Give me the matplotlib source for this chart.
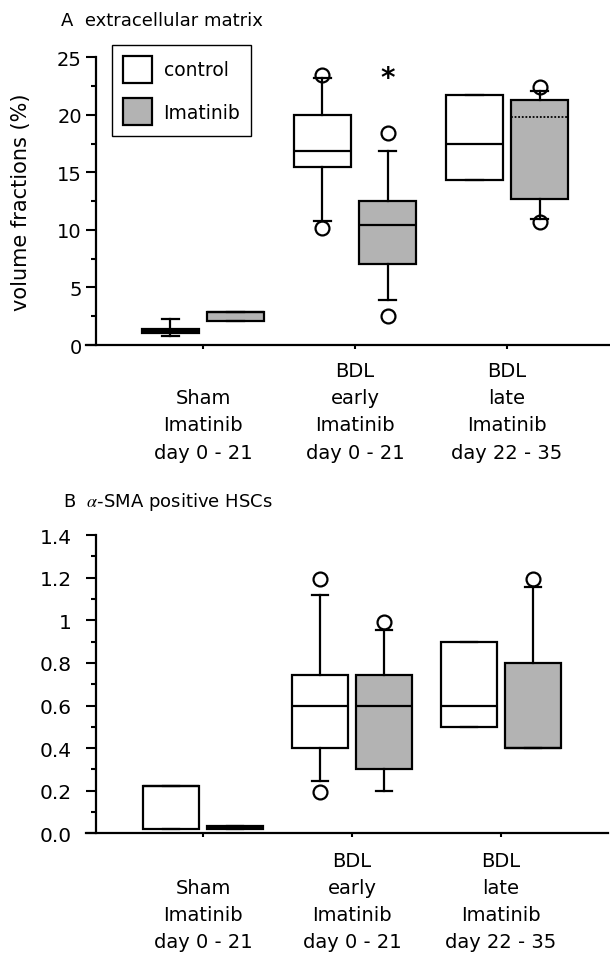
import numpy as np
import matplotlib
matplotlib.use('Agg')
import matplotlib.pyplot as plt
from matplotlib.patches import Patch
from matplotlib.ticker import MultipleLocator

plt.rcParams['font.family'] = ['DejaVu Sans']
plt.rcParams['mathtext.fontset'] = 'stix'

groups = ['\nSham\nImatinib\nday 0 - 21',
          'BDL\nearly\nImatinib\nday 0 - 21',
          'BDL\nlate\nImatinib\nday 22 - 35']
series = ['control', 'Imatinib']

# each row: whisker low, q1, median, q3, whisker high, outliers
ecm_control = [
    (0.8, 1.05, 1.2, 1.35, 2.26, []),
    (10.8, 15.45, 16.85, 20.0, 23.2, [10.2, 23.5]),
    (14.35, 14.35, 17.5, 21.7, 21.7, []),
]
ecm_imatinib = [
    (2.05, 2.05, 2.85, 2.85, 2.85, []),
    (3.95, 7.05, 10.4, 12.5, 16.85, [2.55, 18.45]),
    (10.95, 12.7, 19.85, 21.3, 22.1, [10.65, 22.4]),
]

sma_control = [
    (0.02, 0.02, 0.22, 0.223, 0.223, []),
    (0.244, 0.4, 0.6, 0.745, 1.12, [0.192, 1.194]),
    (0.5, 0.5, 0.6, 0.9, 0.9, []),
]
sma_imatinib = [
    (0.022, 0.022, 0.028, 0.034, 0.034, []),
    (0.2, 0.3, 0.6, 0.745, 0.956, [0.993]),
    (0.4, 0.4, 0.4, 0.8, 1.155, [1.194]),
]

sma_ticks = [0.0, 0.2, 0.4, 0.6, 0.8, 1.0, 1.2, 1.4]
sma_ticklabels = ['0.0', '0.2', '0.4', '0.6', '0.8', '1', '1.2', '1.4']

gray = '#b3b3b3'
off = 0.215


def to_stats(rows):
    return [dict(whislo=r[0], q1=r[1], med=r[2], q3=r[3], whishi=r[4], fliers=r[5]) for r in rows]


def draw_boxes(ax, rows, pos, color):
    return ax.bxp(to_stats(rows), positions=pos, widths=0.375, capwidths=0.11,
                  patch_artist=True, showfliers=True,
                  boxprops=dict(facecolor=color, edgecolor='black', linewidth=1.6),
                  medianprops=dict(color='black', linewidth=1.6),
                  whiskerprops=dict(color='black', linewidth=1.6),
                  capprops=dict(color='black', linewidth=1.6),
                  flierprops=dict(marker='o', markerfacecolor='white', markeredgecolor='black',
                                  markersize=10, markeredgewidth=1.6, zorder=1.9))


def style_axes(ax, xpad):
    ax.spines['top'].set_visible(False)
    ax.spines['right'].set_visible(False)
    ax.spines['left'].set_position(('axes', 0.0185))
    for s in ['left', 'bottom']:
        ax.spines[s].set_linewidth(1.6)
    ax.tick_params(axis='y', which='major', direction='out', length=7, width=1.5)
    ax.tick_params(axis='y', which='minor', direction='out', length=3.5, width=1.5)
    ax.tick_params(axis='x', direction='out', length=3, width=1.5, labelsize=14, pad=xpad)
    ax.set_xticks(range(len(groups)))
    ax.set_xticklabels(groups, linespacing=1.55, va='top')


fig = plt.figure(figsize=(6.1, 9.54), dpi=100)
x = np.arange(len(groups))

# panel A
ax1 = fig.add_axes([0.141, 0.6373, 0.859, 0.3016])
draw_boxes(ax1, ecm_control, x - off, 'white')
res = draw_boxes(ax1, ecm_imatinib, x + off, gray)
res['medians'][2].set_linestyle((0, (1, 1)))
res['medians'][2].set_linewidth(1.3)
ax1.set_xlim(-0.77, 2.678)
ax1.set_ylim(0, 25)
ax1.yaxis.set_major_locator(MultipleLocator(5))
ax1.yaxis.set_minor_locator(MultipleLocator(2.5))
style_axes(ax1, 8.5)
ax1.tick_params(axis='y', labelsize=14, pad=3)
ax1.set_ylabel('volume fractions (%)', fontsize=15)
ax1.yaxis.set_label_coords(-0.105, 0.5)
ax1.text(1 + off, 23.2, '*', ha='center', va='center', fontsize=20, fontweight='bold')

handles = [Patch(facecolor='white', edgecolor='black', linewidth=1.6),
           Patch(facecolor=gray, edgecolor='black', linewidth=1.6)]
leg = ax1.legend(handles, series, loc='upper left', bbox_to_anchor=(112 / 610, 1 - 46 / 954),
                 bbox_transform=fig.transFigure, fontsize=13.5, fancybox=False,
                 edgecolor='black', framealpha=1, handlelength=1.55, handleheight=1.84,
                 borderpad=0.56, handletextpad=0.64, labelspacing=0.85, borderaxespad=0)
leg.get_frame().set_linewidth(1.0)

# panel B
ax2 = fig.add_axes([0.141, 0.1254, 0.8557, 0.3127])
draw_boxes(ax2, sma_control, x - off, 'white')
draw_boxes(ax2, sma_imatinib, x + off, gray)
ax2.set_xlim(-0.785, 2.718)
ax2.set_ylim(0, 1.4)
ax2.set_yticks(sma_ticks, sma_ticklabels)
ax2.yaxis.set_minor_locator(MultipleLocator(0.1))
style_axes(ax2, 9.5)
ax2.tick_params(axis='y', labelsize=14.5, pad=10)

fig.text(61 / 610, 1 - 26 / 954, 'A  extracellular matrix', fontsize=13, va='baseline')
fig.text(63 / 610, 1 - 507 / 954, r'B  $\alpha$-SMA positive HSCs', fontsize=13, va='baseline')

plt.savefig('out.png', dpi=100)
